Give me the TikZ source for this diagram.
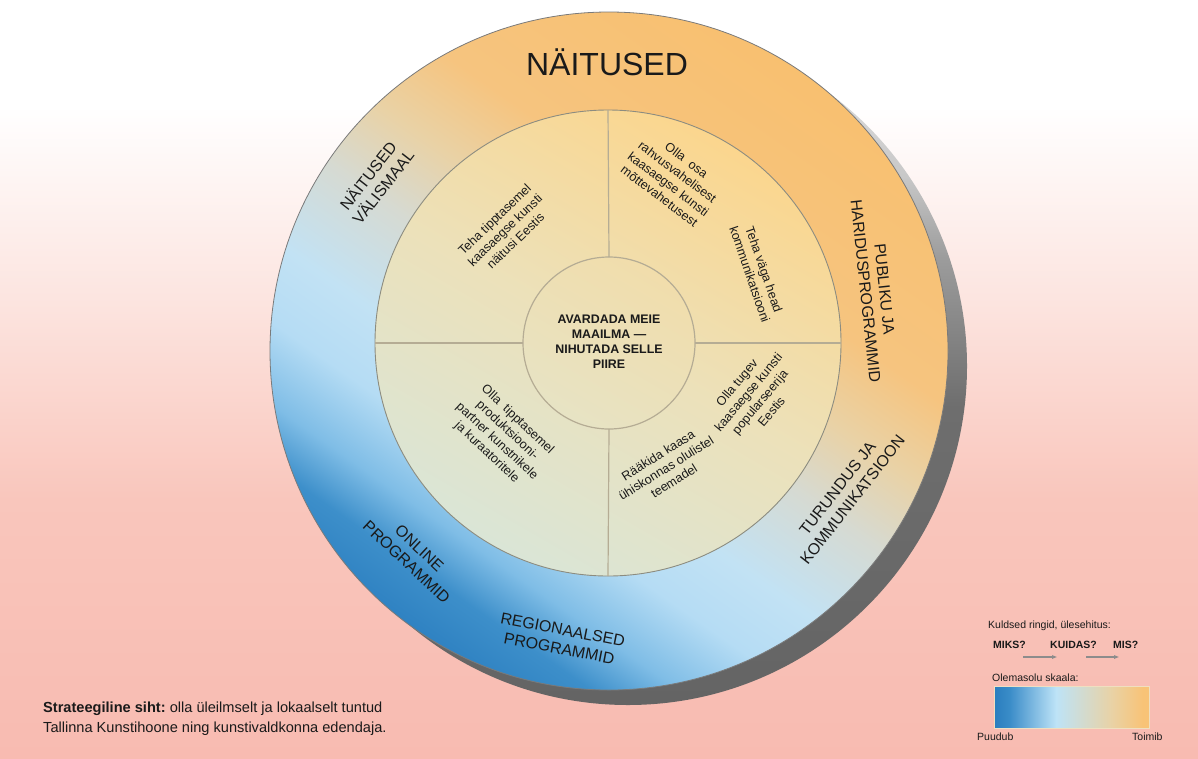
\documentclass[tikz,border=0pt]{standalone}
\usepackage{fontspec}
\setmainfont{Liberation Sans}
\usetikzlibrary{arrows.meta}
\definecolor{bgB}{HTML}{F8BBB1}
\definecolor{bgM}{HTML}{F9C6BC}
\definecolor{bgL}{HTML}{FCE4DF}
\definecolor{rb1}{HTML}{2F82C2}
\definecolor{rb2}{HTML}{3D8FCA}
\definecolor{rb3}{HTML}{7FBDE6}
\definecolor{rb4}{HTML}{B5DCF4}
\definecolor{rb5}{HTML}{C2E2F4}
\definecolor{rb6}{HTML}{D6DAD2}
\definecolor{rb7}{HTML}{E9D2A6}
\definecolor{rb8}{HTML}{F6C47F}
\definecolor{rb9}{HTML}{F8C070}
\definecolor{ib1}{HTML}{DAE5D6}
\definecolor{ib2}{HTML}{ECE1BA}
\definecolor{ib3}{HTML}{FBD68E}
\definecolor{cb1}{HTML}{E7E3C4}
\definecolor{cb2}{HTML}{F1DDAB}
\definecolor{sh1}{HTML}{E8E8E8}
\definecolor{sh2}{HTML}{C8C8C8}
\definecolor{sh3}{HTML}{9C9C9C}
\definecolor{sh4}{HTML}{6E6E6E}
\definecolor{sh5}{HTML}{646464}
\definecolor{lb1}{HTML}{2A7DBE}
\definecolor{lb2}{HTML}{3A8CC8}
\definecolor{lb3}{HTML}{BDE3F7}
\definecolor{lb4}{HTML}{E9D2A5}
\definecolor{lb5}{HTML}{F8C377}
\definecolor{quadline}{HTML}{B5AC94}
\definecolor{ringedge}{HTML}{7A7A7A}
\definecolor{midedge}{HTML}{8C8C80}
\definecolor{txt}{HTML}{1A1A1A}
\pgfdeclareverticalshading{bgsh}{100bp}{color(0bp)=(bgB); color(25bp)=(bgB); color(42bp)=(bgM); color(55bp)=(bgL); color(68bp)=(white); color(100bp)=(white)}
\pgfdeclareverticalshading{ringsh}{100bp}{color(0bp)=(rb1); color(25bp)=(rb1); color(28.75bp)=(rb2); color(32.5bp)=(rb3); color(37.5bp)=(rb4); color(42.5bp)=(rb5); color(49.5bp)=(rb6); color(55bp)=(rb7); color(61bp)=(rb8); color(75bp)=(rb9); color(100bp)=(rb9)}
\pgfdeclareverticalshading{innersh}{100bp}{color(0bp)=(ib1); color(25bp)=(ib1); color(50bp)=(ib2); color(75bp)=(ib3); color(100bp)=(ib3)}
\pgfdeclareverticalshading{coresh}{100bp}{color(0bp)=(cb1); color(25bp)=(cb1); color(75bp)=(cb2); color(100bp)=(cb2)}
\pgfdeclareverticalshading{shadowsh}{100bp}{color(0bp)=(sh5); color(25bp)=(sh5); color(47bp)=(sh4); color(58bp)=(sh3); color(64bp)=(sh2); color(75bp)=(sh1); color(100bp)=(sh1)}
\pgfdeclarehorizontalshading{legendsh}{100bp}{color(0bp)=(lb1); color(25bp)=(lb1); color(30bp)=(lb2); color(45bp)=(lb3); color(63bp)=(lb4); color(73bp)=(lb5); color(100bp)=(lb5)}
\tikzset{
  ringlbl/.style={font=\fontsize{16}{19}\selectfont, align=center, inner sep=0pt, text=txt},
  innerlbl/.style={font=\fontsize{12.6}{15}\selectfont, align=center, inner sep=0pt, text=txt},
  corelbl/.style={font=\fontsize{12.4}{15}\selectfont\bfseries, align=center, inner sep=0pt, text=txt},
  lgd/.style={font=\fontsize{10.5}{12}\selectfont, inner sep=0pt, anchor=west, text=txt},
  lgdb/.style={font=\fontsize{10.5}{12}\selectfont\bfseries, inner sep=0pt, anchor=west, text=txt},
  quad/.style={draw=quadline, line width=1.2pt},
  lgarrow/.style={draw=gray!90, line width=1.1pt, -{Triangle[length=5pt,width=3.5pt]}},
  disc/.style={circle, inner sep=0pt, outer sep=0pt, shade},
}
\begin{document}
\begin{tikzpicture}[x=1pt,y=-1pt]
\useasboundingbox (0,0) rectangle (1198,758);
\shade[shading=bgsh] (0,0) rectangle (1198,758);
% shadow
\node[disc, minimum size=678pt, shading=shadowsh] (shadow) at (628,366) {};
% outer ring
\node[disc, minimum size=678pt, shading=ringsh, shading angle=-35, draw=ringedge, line width=0.8pt] (ring) at (609,351) {};
% middle disc
\node[disc, minimum size=466pt, shading=innersh, shading angle=-30, draw=midedge, line width=0.9pt] (mid) at (608,343) {};
% core disc
\node[disc, minimum size=172pt, shading=coresh, shading angle=-30, draw=quadline, line width=1.2pt] (core) at (609,343) {};
% quadrant lines
\draw[quad] (mid.north) -- (core.north);
\draw[quad] (core.south) -- (mid.south);
\draw[quad] (mid.west) -- (core.west);
\draw[quad] (core.east) -- (mid.east);

% ring labels
\node[ringlbl, font=\fontsize{32}{36}\selectfont] (l-nait) at (607,62) {NÄITUSED};
\node[ringlbl, rotate=52] (l-valis) at (375,181) {NÄITUSED\\VÄLISMAAL};
\node[ringlbl, rotate=-84] (l-publ) at (875,290) {PUBLIKU JA\\HARIDUSPROGRAMMID};
\node[ringlbl, rotate=52] (l-turu) at (845,494) {TURUNDUS JA\\KOMMUNIKATSIOON};
\node[ringlbl, rotate=-43] (l-online) at (413,555) {ONLINE\\PROGRAMMID};
\node[ringlbl, rotate=-11] (l-reg) at (561,639) {REGIONAALSED\\PROGRAMMID};

% inner labels
\node[innerlbl, rotate=44] (i-tt) at (505,230) {Teha tipptasemel\\kaasaegse kunsti\\näitusi Eestis};
\node[innerlbl, rotate=-37] (i-osa) at (673,178) {Olla\ \ osa\\rahvusvahelisest\\kaasaegse kunsti\\mõttevahetusest};
\node[innerlbl, rotate=-71] (i-komm) at (757,272) {Teha väga head\\kommunikatsiooni};
\node[innerlbl, rotate=-43] (i-prod) at (502,436) {Olla\ \ tipptasemel\\produktsiooni-\\partner kunstnikele\\ja kuraatoritele};
\node[innerlbl, rotate=50] (i-pop) at (754,397) {Olla tugev\\kaasaegse kunsti\\popularseerija\\Eestis};
\node[innerlbl, rotate=32] (i-raak) at (666,468) {Rääkida kaasa\\ühiskonnas olulistel\\teemadel};

% core label
\node[corelbl] (c-text) at (609,342) {AVARDADA MEIE\\MAAILMA —\\NIHUTADA SELLE\\PIIRE};

% legend
\node[lgd] (lg-title) at (988,626) {Kuldsed ringid, ülesehitus:};
\node[lgdb] (lg-miks) at (993,645) {MIKS?};
\node[lgdb] (lg-kuidas) at (1050,645) {KUIDAS?};
\node[lgdb] (lg-mis) at (1113,645) {MIS?};
\coordinate (a1s) at (1023,657);
\coordinate (a1e) at (1057,657);
\coordinate (a2s) at (1086,657);
\coordinate (a2e) at (1119,657);
\draw[lgarrow] (a1s) -- (a1e);
\draw[lgarrow] (a2s) -- (a2e);
\node[lgd] (lg-scale) at (992,678) {Olemasolu skaala:};
\shade[shading=legendsh, draw=lb4!70, line width=0.4pt] (994,686) rectangle (1149,728);
\node[lgd] (lg-puu) at (977,737) {Puudub};
\node[lgd] (lg-toi) at (1132,737) {Toimib};

% strategic goal
\node[anchor=west, align=left, inner sep=0pt, text=txt, font=\fontsize{14.6}{20}\selectfont] (goal) at (43,719)
  {\textbf{Strateegiline siht:}\ olla üleilmselt ja lokaalselt tuntud\\Tallinna Kunstihoone ning kunstivaldkonna edendaja.};
\end{tikzpicture}
\end{document}
